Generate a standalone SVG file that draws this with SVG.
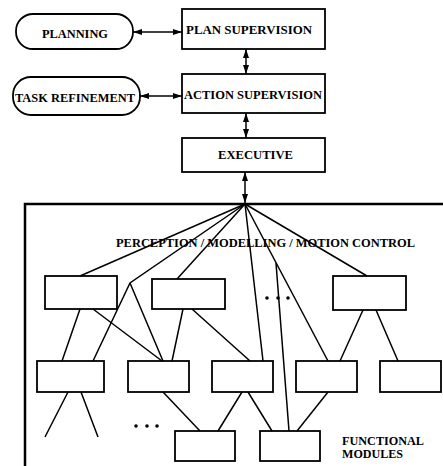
<svg xmlns="http://www.w3.org/2000/svg" width="443" height="466" viewBox="0 0 443 466" font-family="'Liberation Serif', 'DejaVu Serif', serif">
<style>
.box{fill:#fff;stroke:#000;stroke-width:1.8}
.ln{stroke:#000;stroke-width:1.5;fill:none}
.arr{stroke:#000;stroke-width:1.5;fill:none;marker-start:url(#ah);marker-end:url(#ah)}
.frame{stroke:#000;stroke-width:2.5;fill:none}
text{font-family:'Liberation Serif', 'DejaVu Serif', serif;font-weight:bold;font-size:13.5px;fill:#000}
text.sm{font-size:12px}
.dot{fill:#000}
</style>
<defs>
<marker id="ah" viewBox="0 0 9 6" refX="9" refY="3" markerWidth="9" markerHeight="6" markerUnits="userSpaceOnUse" orient="auto-start-reverse">
<path d="M0,0 L9,3 L0,6 Z" fill="#000"/>
</marker>
</defs>
<rect width="443" height="466" fill="#fff"/>
<g id="planning"><rect class="box" x="16" y="14" width="117" height="35" rx="17" ry="17"/><text x="42" y="38" textLength="66" lengthAdjust="spacingAndGlyphs">PLANNING</text></g>
<g id="plan-supervision"><rect class="box" x="182" y="9" width="143" height="40"/><text x="186" y="34" textLength="126" lengthAdjust="spacingAndGlyphs">PLAN  SUPERVISION</text></g>
<g id="task-refinement"><rect class="box" x="13" y="77" width="127" height="38" rx="18" ry="18"/><text x="15" y="102" textLength="120" lengthAdjust="spacingAndGlyphs">TASK REFINEMENT</text></g>
<g id="action-supervision"><rect class="box" x="182" y="74" width="143" height="39"/><text x="184" y="99" textLength="138" lengthAdjust="spacingAndGlyphs">ACTION SUPERVISION</text></g>
<g id="executive"><rect class="box" x="182" y="138" width="143" height="34"/><text x="218" y="159" textLength="75" lengthAdjust="spacingAndGlyphs">EXECUTIVE</text></g>
<g id="frame"><path class="frame" d="M443,204 L25,204 L25,466"/></g>
<g id="label-pmc"><text x="116" y="247" textLength="299" lengthAdjust="spacingAndGlyphs">PERCEPTION / MODELLING / MOTION CONTROL</text></g>
<g id="label-fm"><text class="sm" x="342" y="445" textLength="82" lengthAdjust="spacingAndGlyphs">FUNCTIONAL</text><text class="sm" x="342" y="458" textLength="61" lengthAdjust="spacingAndGlyphs">MODULES</text></g>
<g id="m1a"><rect class="box" x="45" y="276" width="72" height="33"/></g>
<g id="m1b"><rect class="box" x="152" y="279" width="73" height="30"/></g>
<g id="m1c"><rect class="box" x="333" y="276" width="73" height="34"/></g>
<g id="m2a"><rect class="box" x="37" y="361" width="67" height="31"/></g>
<g id="m2b"><rect class="box" x="128" y="361" width="61" height="31"/></g>
<g id="m2c"><rect class="box" x="212" y="361" width="61" height="31"/></g>
<g id="m2d"><rect class="box" x="296" y="361" width="61" height="31"/></g>
<g id="m2e"><rect class="box" x="380" y="361" width="61" height="31"/></g>
<g id="m3a"><rect class="box" x="175" y="431" width="60" height="30"/></g>
<g id="m3b"><rect class="box" x="260" y="431" width="60" height="30"/></g>
<g id="dots"><circle class="dot" cx="267" cy="298" r="1.8"/><circle class="dot" cx="278" cy="298" r="1.8"/><circle class="dot" cx="288" cy="298" r="1.8"/><circle class="dot" cx="136" cy="426" r="1.8"/><circle class="dot" cx="147" cy="426" r="1.8"/><circle class="dot" cx="157" cy="426" r="1.8"/></g>
<g id="connectors">
<line class="arr" x1="133" y1="32" x2="182" y2="32"/>
<line class="arr" x1="140" y1="96" x2="182" y2="96"/>
<line class="arr" x1="246" y1="49" x2="246" y2="74"/>
<line class="arr" x1="246" y1="113" x2="246" y2="138"/>
<line class="arr" x1="245" y1="172" x2="245" y2="203"/>
<path class="ln" d="M245,204 L80,276"/>
<path class="ln" d="M245,204 L130,283 L93,361 M130,283 L163,361"/>
<path class="ln" d="M245,204 L177,279"/>
<path class="ln" d="M245,204 L263,361"/>
<path class="ln" d="M245,204 L328,361"/>
<path class="ln" d="M276,263 L289,431"/>
<path class="ln" d="M245,204 L367,276"/>
<path class="ln" d="M80,309 L62,361 M93,309 L162,361"/>
<path class="ln" d="M183,309 L172,361 M192,309 L250,361"/>
<path class="ln" d="M363,310 L340,361 M376,310 L398,361"/>
<path class="ln" d="M68,392 L45,437 M81,392 L98,437"/>
<path class="ln" d="M163,392 L200,431"/>
<path class="ln" d="M242,392 L218,431 M248,392 L272,431"/>
<path class="ln" d="M328,392 L297,431"/>
</g>
</svg>
